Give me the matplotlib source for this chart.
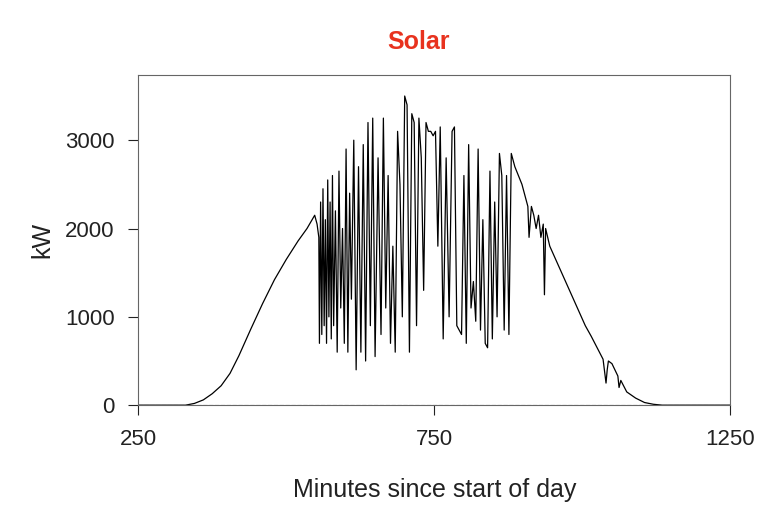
import matplotlib.pyplot as plt

# minutes since start of day / solar power (kW)
minutes = [250, 330, 345, 360, 375, 390, 405, 420, 440, 460, 480, 500, 520, 535, 548, 552,
           555, 556, 558, 560, 562, 564, 566, 568, 570, 572, 574, 576, 578, 580, 583, 586,
           589, 592, 595, 598, 601, 604, 607, 610, 614, 618, 622, 626, 630, 634, 638, 642,
           646, 650, 655, 660, 664, 668, 672, 676, 680, 684, 688, 692, 696, 700, 704, 708,
           712, 716, 720, 724, 728, 732, 736, 740, 744, 748, 752, 756, 760, 765, 770, 775,
           780, 784, 788, 792, 796, 800, 804, 808, 812, 816, 820, 824, 828, 832, 836, 840,
           844, 848, 852, 856, 860, 864, 868, 872, 876, 880, 886, 892, 898, 904, 908, 910,
           914, 918, 922, 926, 930, 934, 936, 938, 945, 955, 965, 975, 985, 995, 1005, 1015,
           1025, 1035, 1040, 1042, 1044, 1050, 1055, 1060, 1062, 1065, 1075, 1090, 1105, 1120,
           1135, 1145, 1250]
kw = [0, 0, 20, 60, 130, 220, 360, 560, 860, 1150, 1420, 1650, 1860, 2000, 2150, 2050,
      1900, 700, 2300, 800, 2450, 900, 2100, 700, 2550, 1000, 2300, 750, 2600, 900, 2200, 600,
      2650, 1100, 2000, 700, 2900, 600, 2400, 1200, 3000, 400, 2700, 600, 2950, 500, 3200, 900,
      3250, 550, 2800, 800, 3250, 1100, 2600, 700, 1800, 600, 3100, 2500, 1000, 3500, 3400, 600,
      3300, 3200, 900, 3250, 2800, 1300, 3200, 3100, 3100, 3050, 3100, 1800, 3150, 750, 2800, 1000,
      3100, 3150, 900, 850, 800, 2600, 700, 2950, 1100, 1400, 950, 2900, 850, 2100, 700, 650,
      2650, 750, 2300, 1000, 2850, 2600, 850, 2600, 800, 2850, 2700, 2600, 2500, 2350, 2250, 1900,
      2250, 2150, 2000, 2150, 1900, 2050, 1250, 2000, 1800, 1650, 1500, 1350, 1200, 1050, 900, 780,
      650, 520, 250, 400, 500, 470, 400, 330, 200, 280, 150, 80, 30, 10,
      0, 0, 0]

fig = plt.figure(figsize=(7.68, 5.09), dpi=100)
ax = fig.add_axes([0.18, 0.204, 0.771, 0.649])
ax.plot(minutes, kw, color='black', linewidth=0.9)
ax.axhline(0, color='#555555', linestyle='--', linewidth=0.8)
ax.set_xlim(250, 1250)
ax.set_ylim(0, 3740)
ax.set_xticks([250, 750, 1250])
ax.set_yticks([0, 1000, 2000, 3000])
ax.tick_params(labelsize=16, colors='#222222', length=7, pad=10)
for s in ax.spines.values():
    s.set_color('#666666')
ax.set_xlabel('Minutes since start of day', fontsize=18, family='Liberation Sans',
              color='#222222', labelpad=20)
ax.set_ylabel('kW', fontsize=18, family='Liberation Sans', color='#222222', labelpad=8)
fig.text(0.545, 0.918, 'Solar', color='#e8321e', fontsize=18, fontweight='bold',
         ha='center', va='center', family='Liberation Sans')
for t in ax.get_xticklabels() + ax.get_yticklabels():
    t.set_family('Liberation Sans')
fig.savefig('out.png')
